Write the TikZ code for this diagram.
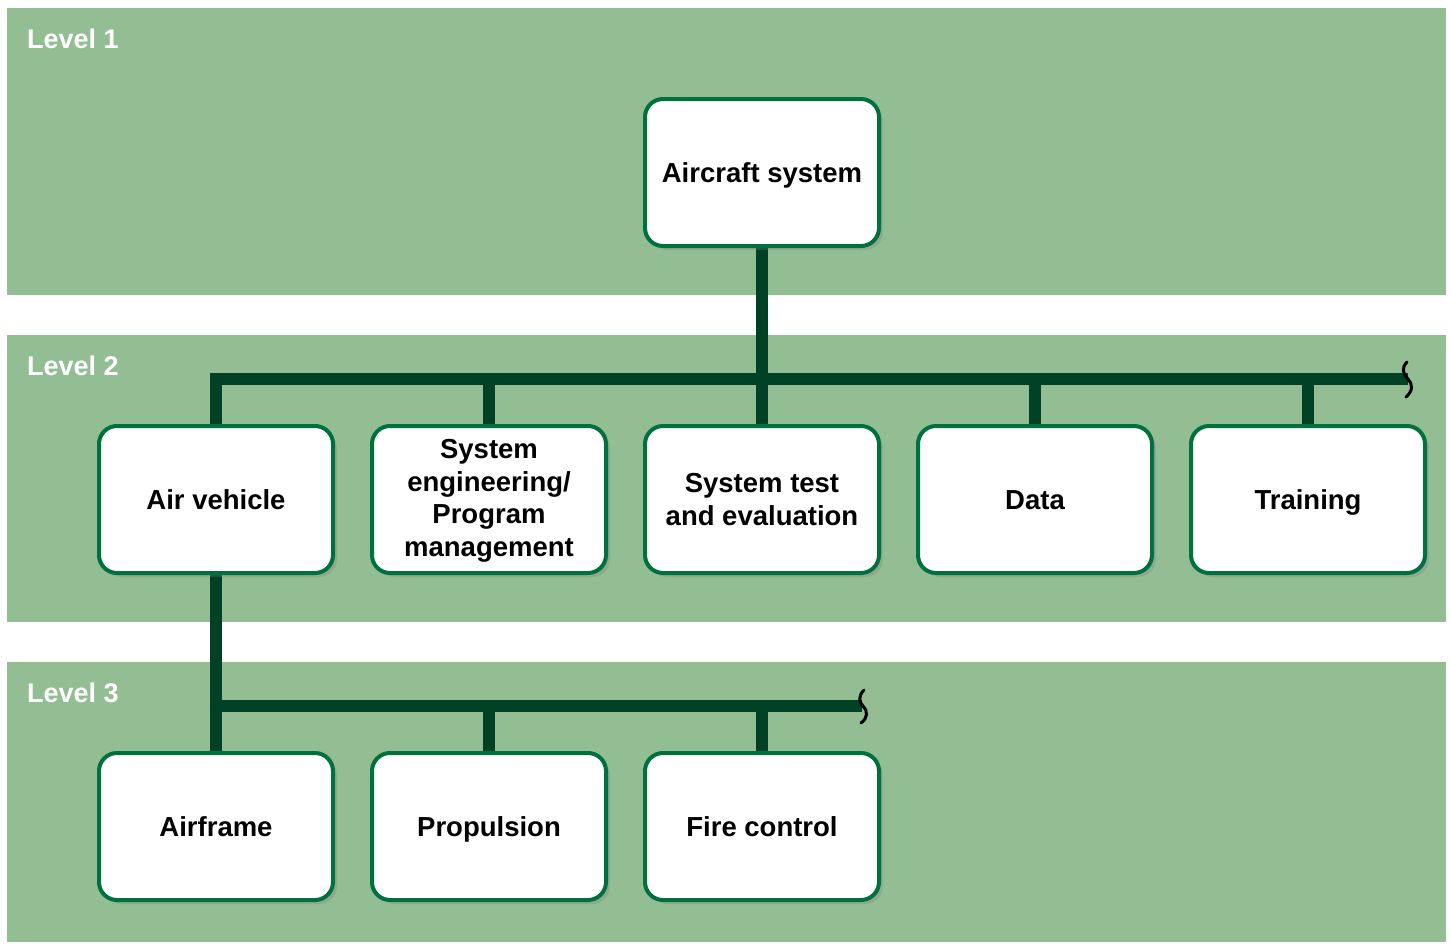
\documentclass[tikz,border=0pt]{standalone}
\usepackage{fontspec}
\setmainfont{Liberation Sans}
\usetikzlibrary{shadows}
\definecolor{band}{RGB}{147,189,147}
\definecolor{boxline}{RGB}{0,112,60}
\definecolor{conn}{RGB}{0,64,36}
\pgfdeclarelayer{bg}
\pgfdeclarelayer{lines}
\pgfsetlayers{bg,lines,main}
\begin{document}
\begin{tikzpicture}[x=1pt,y=-1pt,
  wbs/.style={draw=boxline, line width=4pt, fill=white, rounded corners=18pt,
    minimum width=234pt, minimum height=147pt, align=center,
    font=\fontsize{27.5}{32.5}\selectfont\bfseries,
    drop shadow={opacity=0.3, shadow xshift=4pt, shadow yshift=-4pt}},
  oneline/.style={text height=20pt, text depth=0pt},
  lvl/.style={anchor=base west, text=white, inner sep=0pt,
    font=\fontsize{27}{30}\selectfont\bfseries},
  connector/.style={draw=conn, line width=12pt, line join=miter, line cap=butt},
  squig/.style={draw=black, line width=3pt, line cap=round}]
\useasboundingbox (0,0) rectangle (1452,943);
\begin{pgfonlayer}{bg}
  \fill[white] (0,0) rectangle (1452,943);
  \fill[band] (7,8) rectangle (1446,295);
  \fill[band] (7,335) rectangle (1446,622);
  \fill[band] (7,662) rectangle (1446,942);
\end{pgfonlayer}
\node[lvl] (l1) at (27,48) {Level 1};
\node[lvl] (l2) at (27,375) {Level 2};
\node[lvl] (l3) at (27,702) {Level 3};

\node[wbs, oneline] (ac) at (762,172.5) {Aircraft system};
\node[wbs, oneline] (av) at (216,499.5) {Air vehicle};
\node[wbs] (se) at (489,499.5) {\rule{0pt}{22pt}System\\engineering/\\Program\\management};
\node[wbs] (ste) at (762,499.5) {System test\\and evaluation};
\node[wbs, oneline] (data) at (1035,499.5) {Data};
\node[wbs, oneline] (tr) at (1308,499.5) {Training};
\node[wbs, oneline] (af) at (216,826.5) {Airframe};
\node[wbs, oneline] (pr) at (489,826.5) {Propulsion};
\node[wbs, oneline] (fc) at (762,826.5) {Fire control};

\coordinate (h2end) at (1408,379);
\coordinate (h3end) at (862,706);

\begin{pgfonlayer}{lines}
  \draw[connector] (ac.south) -- (ste.north);
  \draw[connector] (av.north) |- (h2end);
  \draw[connector] (se.north) -- (se.north |- h2end);
  \draw[connector] (data.north) -- (data.north |- h2end);
  \draw[connector] (tr.north) -- (tr.north |- h2end);
  \draw[connector] (av.south) -- (af.north);
  \draw[connector] (av.south |- h3end) -- (h3end);
  \draw[connector] (pr.north) -- (pr.north |- h3end);
  \draw[connector] (fc.north) -- (fc.north |- h3end);
\end{pgfonlayer}
\draw[squig] ([shift={(-1,-17)}]h2end) .. controls ([shift={(-7,-11)}]h2end) and ([shift={(-5,-5)}]h2end) .. (h2end)
  .. controls ([shift={(5,5)}]h2end) and ([shift={(5,12)}]h2end) .. ([shift={(-2,18)}]h2end);
\draw[squig] ([shift={(2,-16)}]h3end) .. controls ([shift={(-4,-10)}]h3end) and ([shift={(-3,-4)}]h3end) .. ([shift={(1,0)}]h3end)
  .. controls ([shift={(6,5)}]h3end) and ([shift={(6,12)}]h3end) .. ([shift={(-1,17)}]h3end);
\end{tikzpicture}
\end{document}
